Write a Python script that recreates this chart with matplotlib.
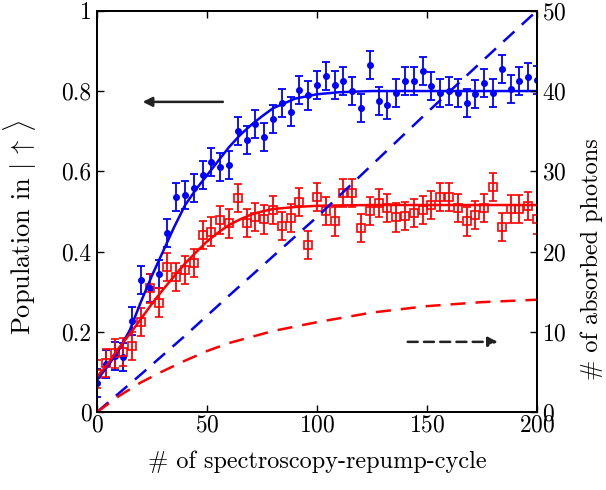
import numpy as np
import matplotlib
matplotlib.use("Agg")
import matplotlib.pyplot as plt

plt.rcParams['font.family'] = 'serif'
plt.rcParams['font.serif'] = ['cmr10']
plt.rcParams['mathtext.fontset'] = 'cm'
plt.rcParams['axes.formatter.use_mathtext'] = True

# measured cycles
cycles = np.arange(0, 201, 4)

# population |up>, blue points
blue_pop = [0.072, 0.12, 0.14, 0.137, 0.227, 0.33, 0.31, 0.344, 0.447, 0.537,
            0.542, 0.559, 0.591, 0.624, 0.610, 0.616, 0.701, 0.679, 0.718, 0.685,
            0.730, 0.770, 0.749, 0.803, 0.789, 0.815, 0.838, 0.815, 0.826, 0.799,
            0.757, 0.864, 0.776, 0.766, 0.795, 0.824, 0.824, 0.851, 0.813, 0.795,
            0.799, 0.795, 0.771, 0.793, 0.820, 0.795, 0.855, 0.805, 0.824, 0.835,
            0.828]
blue_err = 0.035

# population |up>, red squares
red_pop = [0.094, 0.123, 0.146, 0.150, 0.165, 0.225, 0.308, 0.273, 0.362, 0.337,
           0.354, 0.371, 0.441, 0.450, 0.479, 0.470, 0.533, 0.472, 0.487, 0.480,
           0.504, 0.464, 0.483, 0.524, 0.416, 0.535, 0.500, 0.475, 0.545, 0.545,
           0.458, 0.500, 0.522, 0.508, 0.485, 0.488, 0.497, 0.504, 0.516, 0.537,
           0.537, 0.508, 0.475, 0.491, 0.508, 0.560, 0.462, 0.505, 0.505, 0.514,
           0.480]
red_err = 0.035

# fit curves
fit_x = [0, 5, 10, 15, 20, 25, 30, 35, 40, 45, 50, 55, 60, 65, 70, 75, 80,
         90, 100, 110, 125, 150, 175, 200]
blue_fit = [0.08, 0.115, 0.155, 0.205, 0.275, 0.34, 0.40, 0.46, 0.515, 0.555,
            0.59, 0.625, 0.66, 0.69, 0.715, 0.737, 0.757, 0.781, 0.792, 0.797,
            0.80, 0.80, 0.80, 0.80]
red_fit = [0.088, 0.12, 0.16, 0.195, 0.232, 0.27, 0.305, 0.338, 0.37, 0.398,
           0.425, 0.447, 0.466, 0.48, 0.492, 0.5, 0.506, 0.511, 0.514, 0.515,
           0.516, 0.516, 0.516, 0.516]

# absorbed photons (right axis)
ph_x = [0, 10, 20, 30, 40, 50, 60, 80, 100, 125, 150, 175, 200]
blue_ph = [0, 2.35, 4.7, 7.1, 9.5, 12.0, 14.5, 19.4, 24.3, 30.8, 37.3, 43.7, 50.0]
red_ph = [0, 2.0, 3.7, 5.1, 6.4, 7.6, 8.6, 10.1, 11.2, 12.4, 13.2, 13.7, 14.0]

fig = plt.figure(figsize=(6.06, 4.9), dpi=100)
ax = fig.add_axes([0.160, 0.159, 0.726, 0.819])
ax2 = ax.twinx()

ax.errorbar(cycles, blue_pop, yerr=blue_err, fmt='o', color='#0000ff',
            ms=4, elinewidth=1.3, capsize=2.8, capthick=1.3, zorder=3)
ax.errorbar(cycles, red_pop, yerr=red_err, fmt='s', color='#ff0000',
            mfc='none', mec='#ff0000', mew=1.2, ms=6, elinewidth=1.3,
            capsize=2.8, capthick=1.3, zorder=3)
ax.plot(fit_x, blue_fit, color='#0000ff', lw=1.8, zorder=4)
ax.plot(fit_x, red_fit, color='#ff0000', lw=1.8, zorder=4)

ax2.plot(ph_x, blue_ph, color='#0000ff', lw=1.8, dashes=(6, 4))
ax2.plot(ph_x, red_ph, color='#ff0000', lw=1.8, dashes=(6, 4))

# arrows pointing to the axes
ax.annotate('', xy=(19.5, 0.773), xytext=(58.5, 0.773),
            arrowprops=dict(arrowstyle='-|>', color='#222222', lw=1.8,
                            mutation_scale=14))
ax.annotate('', xy=(183.5, 0.175), xytext=(140, 0.175),
            arrowprops=dict(arrowstyle='-|>', color='#222222', lw=1.8,
                            linestyle=(0, (4, 2.5)), mutation_scale=14))

ax.set_xlim(0, 200)
ax.set_ylim(0, 1)
ax2.set_ylim(0, 50)
ax.set_xticks([0, 50, 100, 150, 200])
ax.set_yticks([0, 0.2, 0.4, 0.6, 0.8, 1])
ax.set_yticklabels(['0', '0.2', '0.4', '0.6', '0.8', '1'])
ax2.set_yticks([0, 10, 20, 30, 40, 50])

ax.tick_params(axis='x', direction='in', top=True, length=5, width=1,
               labelsize=17, pad=2)
ax.tick_params(axis='y', direction='in', length=5, width=1, labelsize=17, pad=4)
ax2.tick_params(direction='in', length=5, width=1, labelsize=17, pad=4)
for a in (ax, ax2):
    for s in a.spines.values():
        s.set_linewidth(1.3)

ax.set_xlabel('# of spectroscopy-repump-cycle', fontsize=17.5, labelpad=10)
ax.set_ylabel(r'Population in $|\,\uparrow\,\rangle$', fontsize=19)
ax.yaxis.set_label_coords(-0.132, 0.46)
ax2.set_ylabel('# of absorbed photons', fontsize=17.5)
ax2.yaxis.set_label_coords(1.10, 0.38)

fig.savefig('out.png', dpi=100)
